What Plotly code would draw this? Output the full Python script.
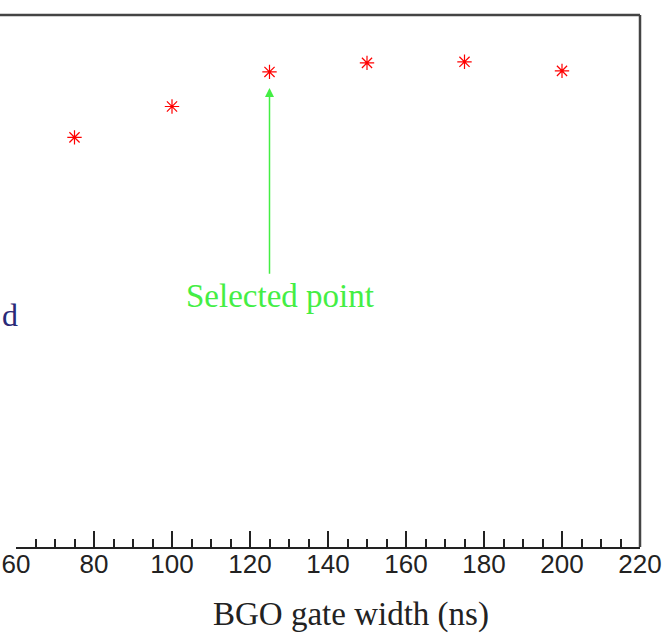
import plotly.graph_objects as go

gate_width = [75, 100, 125, 150, 175, 200]
values = [77.0, 82.8, 89.3, 91.0, 91.2, 89.5]
x_ticks = [60, 80, 100, 120, 140, 160, 180, 200, 220]
selected_x = 125

L, R, T, B = 16, 32, 15, 93
W, H = 672, 640
pw = W - L - R

serif = "Liberation Serif, Times New Roman, serif"

fig = go.Figure()
fig.add_trace(go.Scatter(
    x=gate_width, y=values, mode="markers",
    marker=dict(symbol="asterisk-open", size=12, color="red",
                line=dict(color="red", width=1.2)),
    showlegend=False, hoverinfo="skip"))

fig.update_layout(
    width=W, height=H,
    margin=dict(l=L, r=R, t=T, b=B),
    paper_bgcolor="white", plot_bgcolor="white",
    xaxis=dict(range=[60, 220], tickvals=x_ticks, ticktext=[str(v) for v in x_ticks],
               automargin=False, ticklabelstandoff=-7,
               ticks="inside", ticklen=16, tickwidth=1.5, tickcolor="#222",
               minor=dict(dtick=5, tick0=60, ticks="inside", ticklen=8, tickwidth=1.5, tickcolor="#222"),
               showline=True, linecolor="#222", linewidth=2, showgrid=False, zeroline=False,
               tickfont=dict(family="Liberation Sans, Arial", size=26, color="#222")),
    yaxis=dict(range=[0, 100], visible=False, showgrid=False, zeroline=False, automargin=False),
)

# top and right frame lines
fig.add_shape(type="line", xref="paper", yref="paper", x0=-L / pw, x1=1, y0=1, y1=1,
              line=dict(color="#444", width=2.5))
fig.add_shape(type="line", xref="paper", yref="paper", x0=1, x1=1, y0=0, y1=1,
              line=dict(color="#444", width=2.5))

# arrow to selected point
fig.add_annotation(x=selected_x, y=86.3, ax=selected_x, ay=51.1,
                   xref="x", yref="y", axref="x", ayref="y",
                   showarrow=True, arrowhead=2, arrowsize=1.2, arrowwidth=1.5,
                   arrowcolor="#44ee44", text="")
fig.add_annotation(x=127.7, y=47.2, xref="x", yref="y", text="Selected point",
                   showarrow=False, font=dict(family=serif, size=33, color="#44ee44"))
# cut-off left label fragment
fig.add_annotation(x=-L / pw, y=43.6, xref="paper", yref="y", xanchor="left",
                   text="d", showarrow=False,
                   font=dict(family=serif, size=32, color="#2a2a78"))
# x axis title
fig.add_annotation(x=(351 - L) / pw, y=0, xref="paper", yref="paper", yshift=-67,
                   yanchor="middle", text="BGO gate width (ns)", showarrow=False,
                   font=dict(family=serif, size=33, color="#222"))

fig.write_html("out.html", config={"displayModeBar": False},
               post_script="document.body.style.margin='0';")
